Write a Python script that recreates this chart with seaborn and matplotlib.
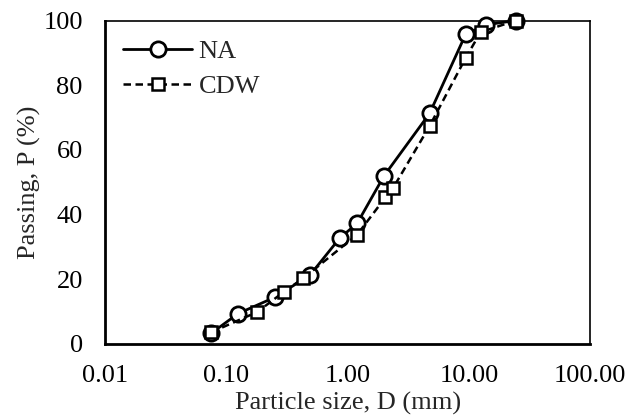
import numpy as np
import pandas as pd
import matplotlib
matplotlib.use('Agg')
import matplotlib.pyplot as plt
import seaborn as sns
from matplotlib.ticker import FixedLocator, FixedFormatter, NullLocator

# gradation curves
na_size = [0.075, 0.125, 0.25, 0.49, 0.86, 1.2, 2.0, 4.75, 9.4, 13.9, 24.4]
na_pass = [3.3, 9.4, 14.4, 21.3, 32.7, 37.3, 52.0, 71.3, 95.7, 98.7, 100.0]

cdw_size = [0.075, 0.18, 0.3, 0.43, 1.2, 2.05, 2.38, 4.75, 9.4, 12.5, 24.4]
cdw_pass = [3.6, 9.9, 16.2, 20.3, 33.8, 45.3, 48.3, 67.4, 88.4, 96.4, 100.0]

x_ticks = [0.01, 0.1, 1, 10, 100]
x_tick_labels = ['0.01', '0.10', '1.00', '10.00', '100.00']
y_ticks = [0, 20, 40, 60, 80, 100]

sns.set_style('white')
plt.rcParams['font.family'] = ['Liberation Serif', 'DejaVu Serif']
fs = 19

fig = plt.figure(figsize=(6.3, 4.19), dpi=100)
ax = fig.add_axes([0.1667, 0.179, 0.77, 0.772])

na = pd.DataFrame({'size': na_size, 'pass': na_pass})
cdw = pd.DataFrame({'size': cdw_size, 'pass': cdw_pass})

sns.lineplot(data=na, x='size', y='pass', ax=ax, color='black', linewidth=2,
             marker='o', markersize=11, markerfacecolor='white',
             markeredgecolor='black', markeredgewidth=2, label='NA', sort=False,
             clip_on=False, zorder=4)
sns.lineplot(data=cdw, x='size', y='pass', ax=ax, color='black', linewidth=1.8,
             linestyle=(0, (3, 1.8)), marker='s', markersize=8,
             markerfacecolor='white', markeredgecolor='black',
             markeredgewidth=1.8, label='CDW', sort=False, clip_on=False, zorder=5)

ax.set_xscale('log')
ax.set_xlim(0.01, 100)
ax.set_ylim(0, 100)
ax.xaxis.set_major_locator(FixedLocator(x_ticks))
ax.xaxis.set_major_formatter(FixedFormatter(x_tick_labels))
ax.xaxis.set_minor_locator(NullLocator())
ax.set_yticks(y_ticks)

ax.set_xlabel('Particle size, D (mm)', fontsize=fs, labelpad=4)
ax.set_ylabel('Passing, P (%)', fontsize=fs, labelpad=2)

for side in ['left', 'bottom']:
    ax.spines[side].set_linewidth(2)
for side in ['top', 'right']:
    ax.spines[side].set_linewidth(1.2)
for s in ax.spines.values():
    s.set_color('black')

ax.tick_params(axis='both', which='major', direction='out', length=6, width=1.5,
               colors='black', labelsize=fs, pad=10)
ax.tick_params(axis='x', pad=9)

ax.legend(loc='upper left', bbox_to_anchor=(0.005, 0.99), frameon=False,
          handlelength=2.6, handletextpad=0.25, labelspacing=0.45, fontsize=fs,
          borderaxespad=0.2)

fig.savefig('out.png', dpi=100)
